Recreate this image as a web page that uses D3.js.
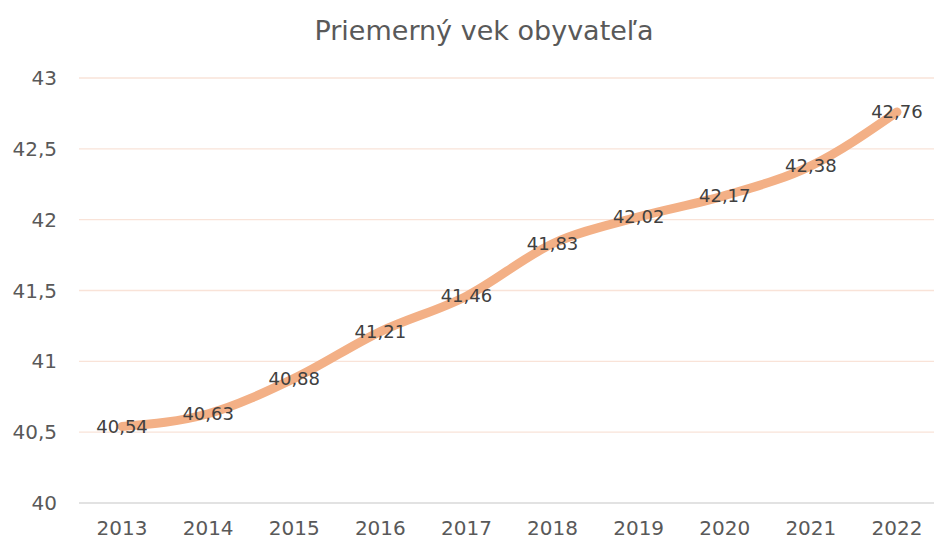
<!DOCTYPE html>
<html>
<head>
<meta charset="utf-8">
<script src="https://cdn.jsdelivr.net/npm/d3@7"></script>
<style>
  body { margin: 0; background: #fff; }
  #chart { width: 934px; height: 544px; }
  text { font-family: "DejaVu Sans", "Open Sans", sans-serif; fill: #595959; }
</style>
</head>
<body>
<div id="chart"></div>
<script>
// chart data
const years = ["2013", "2014", "2015", "2016", "2017", "2018", "2019", "2020", "2021", "2022"];
const avgAge = [40.54, 40.63, 40.88, 41.21, 41.46, 41.83, 42.02, 42.17, 42.38, 42.76];
const yTicks = [40, 40.5, 41, 41.5, 42, 42.5, 43];
const title = "Priemerný vek obyvateľa";

const width = 934;
const height = 544;
const margin = {top: 78, right: -6, bottom: 41, left: 79};

const fmt = v => String(v).replace(".", ",");

const svg = d3.select("#chart")
    .append("svg")
    .attr("width", width)
    .attr("height", height);

const x = d3.scaleBand()
    .domain(years)
    .range([margin.left, width - margin.right]);

const y = d3.scaleLinear()
    .domain([40, 43])
    .range([height - margin.bottom, margin.top]);

// gridlines
svg.append("g")
    .selectAll("line")
    .data(yTicks.slice(1))
    .enter()
    .append("line")
    .attr("x1", margin.left)
    .attr("x2", width)
    .attr("y1", d => y(d))
    .attr("y2", d => y(d))
    .attr("stroke", "#F9E3D8")
    .attr("stroke-width", 1.3);

// x axis line
svg.append("line")
    .attr("x1", margin.left)
    .attr("x2", width)
    .attr("y1", y(40))
    .attr("y2", y(40))
    .attr("stroke", "#D9D9D9")
    .attr("stroke-width", 1.5);

// y tick labels
svg.append("g")
    .selectAll("text")
    .data(yTicks)
    .enter()
    .append("text")
    .attr("x", 57)
    .attr("y", d => y(d))
    .attr("dy", "0.35em")
    .attr("text-anchor", "end")
    .style("font-size", "20px")
    .text(d => fmt(d));

// x tick labels
svg.append("g")
    .selectAll("text")
    .data(years)
    .enter()
    .append("text")
    .attr("x", d => x(d) + x.bandwidth() / 2)
    .attr("y", 535)
    .attr("text-anchor", "middle")
    .style("font-size", "20px")
    .text(d => d);

// title
svg.append("text")
    .attr("x", 484)
    .attr("y", 40)
    .attr("text-anchor", "middle")
    .style("font-size", "27px")
    .text(title);

// line
const pts = years.map((yr, i) => ({yr: yr, v: avgAge[i]}));
const line = d3.line()
    .x(d => x(d.yr) + x.bandwidth() / 2)
    .y(d => y(d.v))
    .curve(d3.curveMonotoneX);

svg.append("path")
    .datum(pts)
    .attr("d", line)
    .attr("fill", "none")
    .attr("stroke", "#F3B086")
    .attr("stroke-width", 9)
    .attr("stroke-linecap", "round")
    .attr("stroke-linejoin", "round");

// data labels
svg.append("g")
    .selectAll("text")
    .data(pts)
    .enter()
    .append("text")
    .attr("x", d => x(d.yr) + x.bandwidth() / 2)
    .attr("y", d => y(d.v))
    .attr("dy", "0.35em")
    .attr("text-anchor", "middle")
    .style("font-size", "18px")
    .style("fill", "#404040")
    .text(d => fmt(d.v));
</script>
</body>
</html>
